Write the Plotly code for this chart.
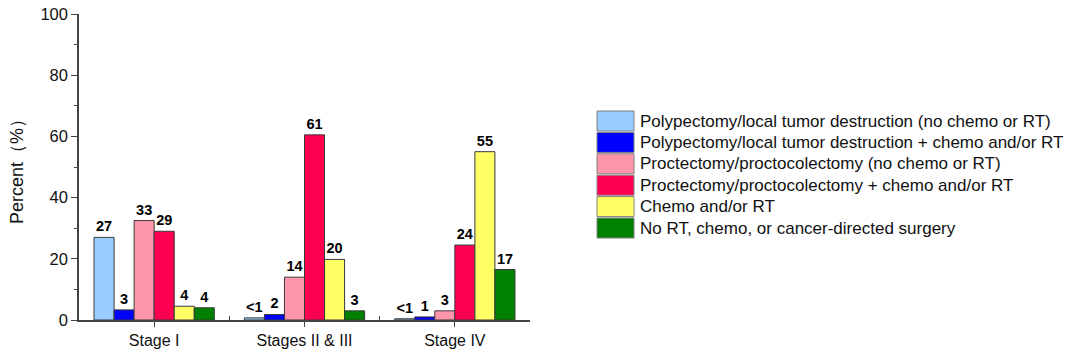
import plotly.graph_objects as go

stages = ["Stage I", "Stages II & III", "Stage IV"]
series_names = [
    "Polypectomy/local tumor destruction (no chemo or RT)",
    "Polypectomy/local tumor destruction + chemo and/or RT",
    "Proctectomy/proctocolectomy (no chemo or RT)",
    "Proctectomy/proctocolectomy + chemo and/or RT",
    "Chemo and/or RT",
    "No RT, chemo, or cancer-directed surgery",
]
values = [
    [27, 0.7, 0.4],
    [3.3, 1.8, 1.0],
    [32.5, 14, 3.0],
    [29, 60.5, 24.5],
    [4.5, 19.8, 55],
    [4.0, 3.0, 16.5],
]
labels = [
    ["27", "<1", "<1"],
    ["3", "2", "1"],
    ["33", "14", "3"],
    ["29", "61", "24"],
    ["4", "20", "55"],
    ["4", "3", "17"],
]
colors = ["#99CCFF", "#0000FF", "#FF95A8", "#FF0050", "#FFFF66", "#008000"]

L, R, T, B = 79, 550, 14, 34
W, H = 1080, 354
pw = W - L - R
ph = H - T - B

fig = go.Figure()
xpos = list(range(len(stages)))
for name, vals, lab, col in zip(series_names, values, labels, colors):
    fig.add_trace(go.Bar(
        x=xpos, y=vals, name=name, text=lab, textposition="outside",
        textfont=dict(family="Liberation Sans", size=14.5, color="black", weight="bold"),
        marker=dict(color=col, line=dict(color="#3a3a3a", width=1)),
        cliponaxis=False, showlegend=False,
    ))

# custom legend
lx0, lw, lh = 597, 37, 20
ly0, pitch = 111, 21.4
for i, (name, col) in enumerate(zip(series_names, colors)):
    y_top = ly0 + i * pitch
    fig.add_shape(type="rect", xref="paper", yref="paper",
                  x0=(lx0 - L) / pw, x1=(lx0 + lw - L) / pw,
                  y0=1 - (y_top - T) / ph, y1=1 - (y_top + lh - T) / ph,
                  fillcolor=col, line=dict(color="#808080", width=1))
    fig.add_annotation(xref="paper", yref="paper",
                       x=(lx0 + lw + 4 - L) / pw, y=1 - (y_top + lh / 2 - T) / ph,
                       text=name, showarrow=False, xanchor="left", yanchor="middle",
                       font=dict(family="Liberation Sans", size=17, color="#111111"))

fig.update_layout(
    width=W, height=H,
    margin=dict(l=L, r=R, t=T, b=B, autoexpand=False),
    barmode="group", bargap=0.2, bargroupgap=0,
    plot_bgcolor="white", paper_bgcolor="white",
    font=dict(family="Liberation Sans", color="#111111"),
)
fig.update_xaxes(
    range=[-0.5, 2.5], tickvals=xpos, ticktext=stages, automargin=False,
    showline=True, linecolor="#444444", linewidth=1.5,
    ticks="outside", ticklen=5, tickcolor="#444444",
    tickfont=dict(size=16, color="#111111"), showgrid=False, zeroline=False,
    minor=dict(tickvals=[0.5, 1.5], ticks="inside", ticklen=4, tickcolor="#444444"),
)
fig.update_yaxes(
    range=[0, 100], dtick=20, showline=True, linecolor="#444444", linewidth=1.5,
    automargin=False,
    ticks="outside", ticklen=6, tickcolor="#444444",
    tickfont=dict(size=16.5, color="#111111"), showgrid=False, zeroline=False,
    minor=dict(dtick=10, ticks="outside", ticklen=3, tickcolor="#444444"),
    title=dict(text="Percent（%）", font=dict(size=18, color="#111111"), standoff=12),
)
fig.write_html("out.html")
